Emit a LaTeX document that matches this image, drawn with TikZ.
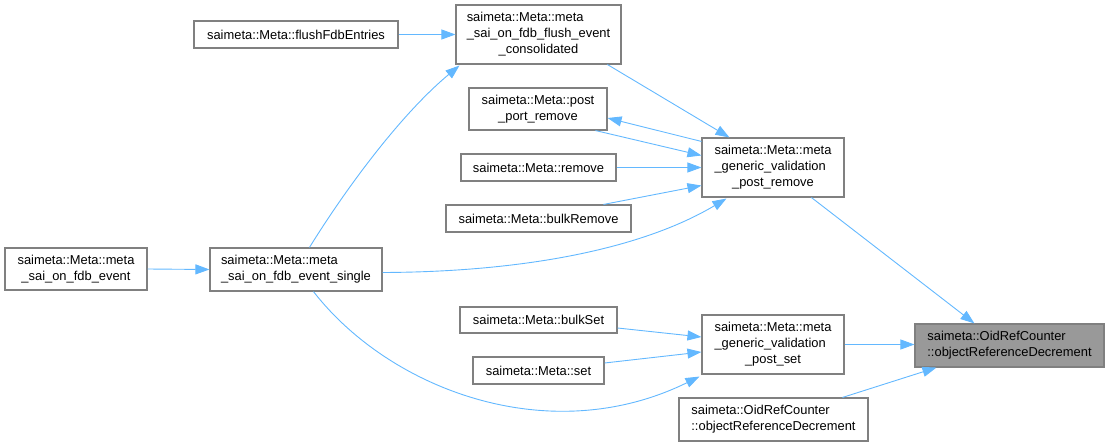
\documentclass[tikz,border=0pt]{standalone}
\usepackage{fontspec}
\setmainfont{Liberation Sans}
\usetikzlibrary{arrows.meta,calc}
\definecolor{edgeblue}{HTML}{63B8FF}
\definecolor{boxgray}{HTML}{808080}
\definecolor{hlfill}{HTML}{999999}
\newcommand{\dxlab}[2]{\begin{tabular}{@{}l@{}}#1\\\multicolumn{1}{@{}c@{}}{#2}\end{tabular}}
\tikzset{
  dbox/.style={draw=boxgray, line width=1.1pt, fill=white, inner sep=0pt, anchor=center,
    font=\fontsize{12.9}{16}\selectfont},
  hlbox/.style={dbox, fill=hlfill},
  dedge/.style={draw=edgeblue, line width=0.9pt, -{Triangle[length=14pt,width=10pt]}},
}
\begin{document}
\begin{tikzpicture}[x=1pt,y=-1pt]
\useasboundingbox (0,0) rectangle (1109,447);
% nodes
\node[dbox, minimum width=142pt, minimum height=42pt] (event) at (76,269) {\dxlab{saimeta::Meta::meta}{\_sai\_on\_fdb\_event}};
\node[dbox, minimum width=172pt, minimum height=43pt] (single) at (296,269.5) {\dxlab{saimeta::Meta::meta}{\_sai\_on\_fdb\_event\_single}};
\node[dbox, minimum width=204pt, minimum height=27pt] (flush) at (296,34.5) {saimeta::Meta::flushFdbEntries};
\node[dbox, minimum width=165pt, minimum height=59pt] (cons) at (538.5,34.5) {\dxlab{saimeta::Meta::meta\\\_sai\_on\_fdb\_flush\_event}{\_consolidated}};
\node[dbox, minimum width=138pt, minimum height=42pt] (ppr) at (538,109) {\dxlab{saimeta::Meta::post}{\_port\_remove}};
\node[dbox, minimum width=155pt, minimum height=27pt] (remove) at (538.5,167.5) {saimeta::Meta::remove};
\node[dbox, minimum width=185pt, minimum height=27pt] (bulkremove) at (538.5,218.5) {saimeta::Meta::bulkRemove};
\node[dbox, minimum width=142pt, minimum height=59pt] (pr) at (773,167.5) {\dxlab{saimeta::Meta::meta\\\_generic\_validation}{\_post\_remove}};
\node[dbox, minimum width=157pt, minimum height=26pt] (bulkset) at (538.5,320) {saimeta::Meta::bulkSet};
\node[dbox, minimum width=131pt, minimum height=27pt] (set) at (538.5,370.5) {saimeta::Meta::set};
\node[dbox, minimum width=142pt, minimum height=59pt] (ps) at (773,344.5) {\dxlab{saimeta::Meta::meta\\\_generic\_validation}{\_post\_set}};
\node[hlbox, minimum width=189pt, minimum height=43pt] (target) at (1009.5,345.5) {\dxlab{saimeta::OidRefCounter}{::objectReferenceDecrement}};
\node[dbox, minimum width=189pt, minimum height=43pt] (other) at (773.5,419.5) {\dxlab{saimeta::OidRefCounter}{::objectReferenceDecrement}};
% edges
\draw[dedge] (flush.east) -- (cons.west);
\draw[dedge] ($(single.north west)+(100,0)$) .. controls (345,190) and (400,115) .. ($(cons.south west)+(4,1)$);
\draw[dedge] ($(cons.south west)+(152,0)$) -- ($(pr.north west)+(28,0)$);
\draw[dedge] ($(pr.north west)+(0,4)$) -- ($(ppr.east)+(0,9)$);
\draw[dedge] ($(ppr.south west)+(127,0)$) -- ($(pr.west)+(0,-12)$);
\draw[dedge] (remove.east) -- (pr.west);
\draw[dedge] ($(bulkremove.north west)+(158,0)$) -- ($(pr.west)+(0,18)$);
\draw[dedge] ($(single.east)+(0,3)$) .. controls (520,272) and (640,250) .. ($(pr.south west)+(25,1)$);
\draw[dedge] (event.east) -- (single.west);
\draw[dedge] ($(pr.south west)+(110,0)$) -- ($(target.north west)+(60,0)$);
\draw[dedge] ($(bulkset.east)+(0,8)$) -- ($(ps.west)+(0,-7.5)$);
\draw[dedge] ($(set.east)+(0,-7.5)$) -- ($(ps.west)+(0,7.5)$);
\draw[dedge] ($(single.south west)+(104,0)$) .. controls (390,390) and (550,450) .. ($(ps.south west)+(-2,2)$);
\draw[dedge] (ps.east) -- (ps.east -| target.west);
\draw[dedge] ($(other.north west)+(164,0)$) -- ($(target.south west)+(22,0)$);
\end{tikzpicture}
\end{document}
